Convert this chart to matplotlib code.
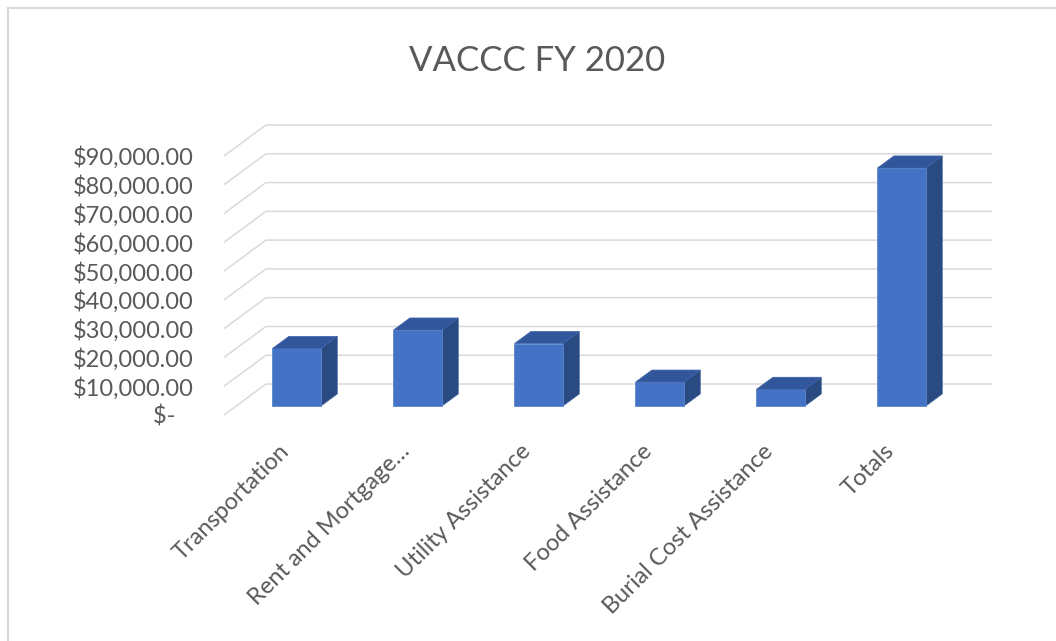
import matplotlib.pyplot as plt
import matplotlib.patches as mpatches
import numpy as np

# data
categories = ['Transportation', 'Rent and Mortgage\u2026', 'Utility Assistance',
              'Food Assistance', 'Burial Cost Assistance', 'Totals']
amounts = [20000, 26400, 21700, 8300, 5800, 82700]
tick_values = [0, 10000, 20000, 30000, 40000, 50000, 60000, 70000, 80000, 90000]
title = 'VACCC FY 2020'

# oblique "3d" look, the way excel draws it
depth_x = 0.347      # floor depth in category units
depth_y = 10764      # floor depth in value units
bar_front = 0.29     # where the bar front sits inside the floor depth
bar_depth = 0.39     # how deep the bar is
bar_width = 0.40

front_col = '#4472C4'
top_col = '#31569B'
side_col = '#2A4A82'
grid_col = '#D9D9D9'
text_col = '#595959'

plt.rcParams['font.family'] = ['Lato', 'DejaVu Sans']

W, H = 1056, 641
fig = plt.figure(figsize=(W / 100, H / 100), dpi=100)
fig.patch.set_facecolor('white')

ax = fig.add_axes([224 / W, 1 - 415 / H, (992 - 224) / W, (415 - 125) / H])
ax.set_xlim(-0.5, len(categories) - 0.5 + depth_x)
ax.set_ylim(0, tick_values[-1] + depth_y)
for s in ax.spines.values():
    s.set_visible(False)
ax.patch.set_alpha(0)

# gridlines: short diagonal on the side wall, then flat along the back wall
x0 = -0.5
x1 = len(categories) - 0.5 + depth_x
for v in tick_values:
    ax.plot([x0, x0 + depth_x, x1], [v, v + depth_y, v + depth_y],
            color=grid_col, lw=1.1, zorder=1, clip_on=False, solid_capstyle='butt')

# bars
for i, val in enumerate(amounts):
    ox = bar_front * depth_x
    oy = bar_front * depth_y
    bx = bar_depth * depth_x
    by = bar_depth * depth_y
    left = i - bar_width / 2 + ox
    right = i + bar_width / 2 + ox
    bottom = oy
    top = oy + val
    front = mpatches.Polygon([(left, bottom), (right, bottom), (right, top), (left, top)],
                             closed=True, facecolor=front_col, edgecolor='#5E86D0',
                             lw=0.6, zorder=3)
    side = mpatches.Polygon([(right, bottom), (right + bx, bottom + by),
                             (right + bx, top + by), (right, top)],
                            closed=True, facecolor=side_col, edgecolor='#3A5C9A',
                            lw=0.5, zorder=2)
    lid = mpatches.Polygon([(left, top), (right, top), (right + bx, top + by),
                            (left + bx, top + by)],
                           closed=True, facecolor=top_col, edgecolor='#3F64AA',
                           lw=0.5, zorder=4)
    ax.add_patch(side)
    ax.add_patch(front)
    ax.add_patch(lid)

# value axis labels (accounting format)
labels = []
for v in tick_values:
    if v == 0:
        labels.append('$-   ')
    else:
        labels.append('${:,.2f}'.format(v))
ax.set_yticks(tick_values)
ax.set_yticklabels(labels, fontsize=17, color=text_col)
ax.tick_params(axis='y', length=0, pad=22)
ax.set_xticks([])

# category labels, rotated 45 degrees
for i, name in enumerate(categories):
    ax.annotate(name, xy=(i, 0), xytext=(1, -33), textcoords='offset pixels',
                rotation=45, ha='right', va='center', rotation_mode='anchor',
                fontsize=17, color=text_col, annotation_clip=False)

fig.text(537 / W, 1 - 61 / H, title, ha='center', va='center',
         fontsize=25, color=text_col)

# chart area border
fig.patches.append(mpatches.Rectangle((8 / W, -0.1), 1.2, (H - 8) / H + 0.1,
                                      transform=fig.transFigure, fill=False,
                                      edgecolor=grid_col, lw=1.5))

fig.savefig('out.png', dpi=100)
